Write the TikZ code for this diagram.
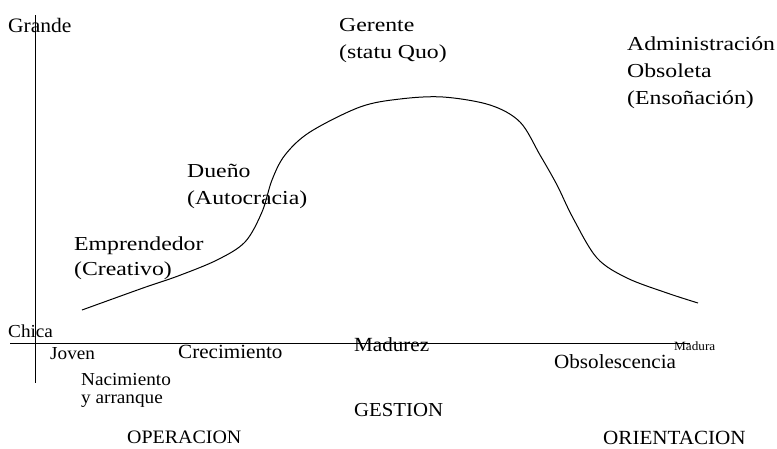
\documentclass[tikz,border=0pt]{standalone}
\usepackage{fontspec}
\setmainfont[FakeStretch=1.05]{Liberation Serif}
\newfontfamily\widefont[FakeStretch=1.2]{Liberation Serif}
\begin{document}
\begin{tikzpicture}[x=1pt, y=-1pt]
      \tikzstyle{STY1} = [inner sep=0pt, anchor=base west, align=left, font=\widefont\fontsize{19.8}{27}\selectfont]
      \tikzstyle{STY2} = [inner sep=0pt, anchor=base west, font=\fontsize{20.1}{22}\selectfont]
      \tikzstyle{STY3} = [inner sep=0pt, anchor=base west, align=left, font=\fontsize{18.3}{18}\selectfont]
      \tikzstyle{STY4} = [line width=1pt]

      \useasboundingbox (0,0) rectangle (777,448);

      %%%%% AXES

      \coordinate (ytop) at (35,15);
      \coordinate (ybot) at (35,383);
      \coordinate (xleft) at (10,343);
      \coordinate (xright) at (690,343);

      \draw[STY4] (ytop) -- (ybot);
      \draw[STY4] (xleft) -- (xright);

      %%%%% CURVE

      \draw[STY4] plot[smooth, tension=0.55] coordinates {(82,310) (143,288) (178,276) (217,260) (245,242) (262,212) (272,180) (285,155) (310,132) (360,107) (400,99) (443,97) (490,105) (520,122) (540,155) (557,185) (573,218) (597,258) (627,278) (667,293) (698,303)};

      %%%%% LABELS (multi-line: placed at baseline of last line)

      \node[STY2, font=\fontsize{20.5}{22}\selectfont](grande) at (8,32) {Grande};
      \node[STY3](chica) at (8,337) {Chica};

      \node[STY1](gerente) at (339,58) {Gerente\\(statu Quo)};
      \node[STY1](admin) at (627,104) {Administración\\Obsoleta\\(Ensoñación)};
      \node[STY1](dueno) at (187,204) {Dueño\\(Autocracia)};
      \node[STY1, font=\widefont\fontsize{19.8}{25}\selectfont](empr) at (74,275) {Emprendedor\\(Creativo)};

      \node[STY3](joven) at (50,359) {Joven};
      \node[STY3](nacim) at (81,403) {Nacimiento\\y arranque};
      \node[STY2](crec) at (178,358) {Crecimiento};
      \node[STY2](madurez) at (354,351) {Madurez};
      \node[STY2, font=\fontsize{12.6}{14}\selectfont](madura) at (674,350) {Madura};
      \node[STY2](obsol) at (554,368) {Obsolescencia};

      \node[STY2, font=\fontsize{19}{22}\selectfont](oper) at (127,443) {OPERACION};
      \node[STY2, font=\fontsize{19.8}{22}\selectfont](gest) at (354,416) {GESTION};
      \node[STY2](orient) at (603,444) {ORIENTACION};
    \end{tikzpicture}
\end{document}
